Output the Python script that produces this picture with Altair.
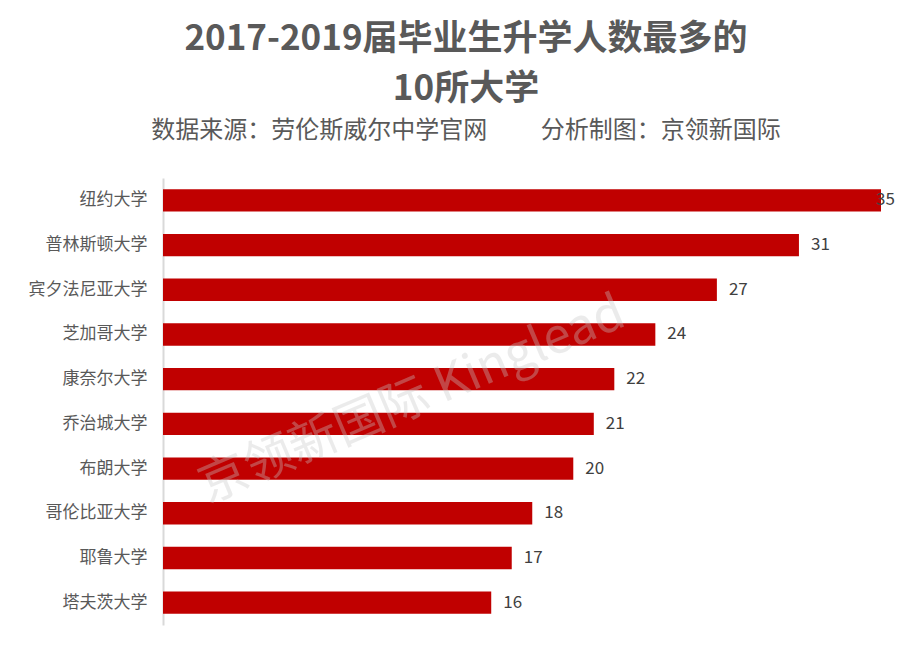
import altair as alt
import pandas as pd

universities = ["纽约大学", "普林斯顿大学", "宾夕法尼亚大学", "芝加哥大学", "康奈尔大学",
                "乔治城大学", "布朗大学", "哥伦比亚大学", "耶鲁大学", "塔夫茨大学"]
counts = [35, 31, 27, 24, 22, 21, 20, 18, 17, 16]

df = pd.DataFrame({"uni": universities, "n": counts})

FONT = "Noto Sans CJK SC"

y_enc = alt.Y("uni:N", sort=universities,
              scale=alt.Scale(paddingInner=0.5, paddingOuter=0.25),
              axis=alt.Axis(title=None, ticks=False, labelFont=FONT, labelFontSize=17,
                            labelColor="#595959", labelPadding=16, domainColor="#d9d9d9",
                            domainWidth=2))
x_enc = alt.X("n:Q", scale=alt.Scale(domain=[0, 35], nice=False),
              axis=None)

base = alt.Chart(df)

bars = base.mark_bar(color="#C00000").encode(x=x_enc, y=y_enc)

labels = base.transform_filter("datum.n < 35").mark_text(
    align="left", baseline="middle", dx=12, font=FONT, fontSize=17, color="#404040"
).encode(x=x_enc, y=y_enc, text="n:Q")

labels_max = base.transform_filter("datum.n >= 35").mark_text(
    align="left", baseline="middle", dx=-5, font=FONT, fontSize=17, color="#404040"
).encode(x=x_enc, y=y_enc, text="n:Q")

watermark = alt.Chart(pd.DataFrame({"t": ["京领新国际 Kinglead"]})).mark_text(
    align="center", baseline="middle", angle=337, font=FONT, fontSize=49,
    color="#c8c8c8", opacity=0.35
).encode(x=alt.value(249), y=alt.value(222), text="t:N")

chart = alt.layer(bars, labels, labels_max, watermark).properties(
    width=718, height=447,
    autosize=alt.AutoSizeParams(type="none"),
    padding={"left": 155, "top": 170, "right": 16, "bottom": 8},
    title=alt.TitleParams(
        text=["2017-2019届毕业生升学人数最多的", "10所大学"],
        subtitle="数据来源：劳伦斯威尔中学官网\u3000\u3000  分析制图：京领新国际",
        anchor="middle", dx=-56, font=FONT, fontSize=35, fontWeight="bold",
        color="#595959", lineHeight=50, subtitleFont=FONT, subtitleFontSize=24,
        subtitleColor="#595959", subtitlePadding=12, offset=35
    )
).configure_view(stroke=None)

chart.save("out.html", embed_options={"renderer": "svg", "actions": False})
